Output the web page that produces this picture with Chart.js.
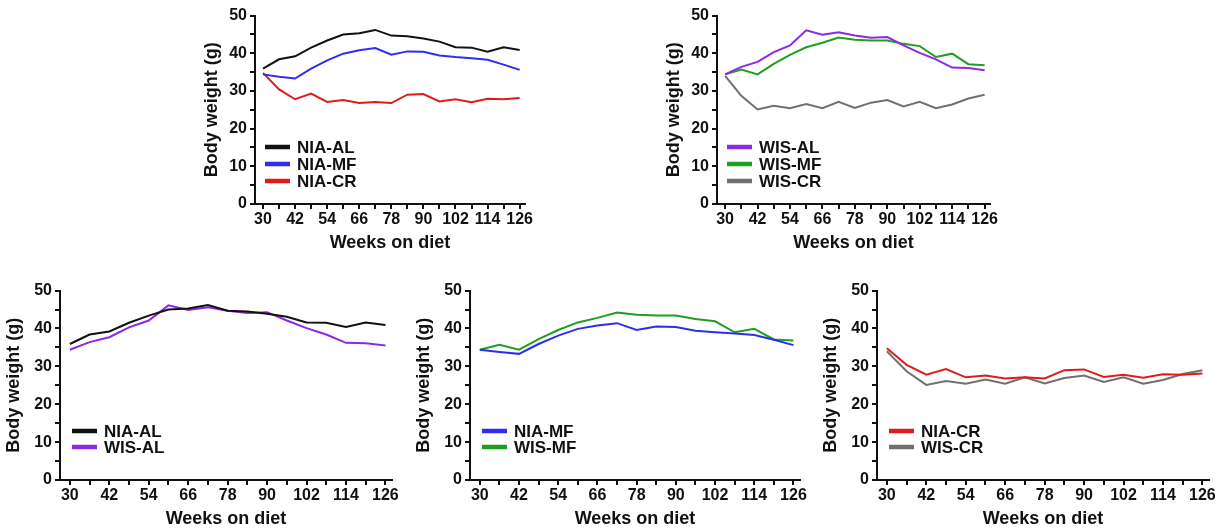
<!DOCTYPE html>
<html>
<head>
<meta charset="utf-8">
<script src="https://cdn.jsdelivr.net/npm/chart.js@4.4.0/dist/chart.umd.min.js"></script>
<style>
body { margin: 0; background: #fff; width: 1225px; height: 529px; overflow: hidden; position: relative; }
canvas { position: absolute; }
</style>
</head>
<body>
<canvas id="panelNia"></canvas>
<canvas id="panelWis"></canvas>
<canvas id="panelAL"></canvas>
<canvas id="panelMF"></canvas>
<canvas id="panelCR"></canvas>
<script>
// weeks on diet (x) and body weight in g (y)
var weeks = [30, 36, 42, 48, 54, 60, 66, 72, 78, 84, 90, 96, 102, 108, 114, 120, 126];
var xTicks = [30, 36, 42, 48, 54, 60, 66, 72, 78, 84, 90, 96, 102, 108, 114, 120, 126];
var yTicks = [0, 5, 10, 15, 20, 25, 30, 35, 40, 45, 50];

var niaAL = [35.9, 38.4, 39.2, 41.5, 43.4, 45.0, 45.3, 46.2, 44.7, 44.5, 43.9, 43.1, 41.6, 41.5, 40.4, 41.6, 40.9];
var niaMF = [34.4, 33.8, 33.3, 35.9, 38.1, 39.9, 40.8, 41.4, 39.6, 40.5, 40.4, 39.4, 39.0, 38.7, 38.3, 37.0, 35.6];
var niaCR = [34.8, 30.4, 27.8, 29.3, 27.1, 27.6, 26.8, 27.1, 26.8, 29.0, 29.2, 27.2, 27.8, 27.0, 27.9, 27.8, 28.1];
var wisAL = [34.4, 36.4, 37.7, 40.3, 42.1, 46.1, 44.9, 45.6, 44.7, 44.1, 44.3, 42.1, 40.1, 38.4, 36.2, 36.1, 35.5];
var wisMF = [34.4, 35.7, 34.4, 37.2, 39.6, 41.6, 42.8, 44.2, 43.6, 43.4, 43.4, 42.5, 41.9, 39.0, 39.9, 37.1, 36.8];
var wisCR = [34.0, 28.7, 25.1, 26.1, 25.4, 26.5, 25.4, 27.1, 25.5, 26.9, 27.6, 25.9, 27.1, 25.4, 26.4, 28.0, 29.0];

Chart.defaults.font.family = "'Liberation Sans', Arial, sans-serif";
Chart.defaults.font.weight = 'bold';
Chart.defaults.color = '#111';

function serie(label, values, color) {
    return {
        label: label,
        data: weeks.map(function (w, i) { return { x: w, y: values[i] }; }),
        borderColor: color,
        backgroundColor: color,
        borderWidth: 2,
        pointRadius: 0,
        tension: 0
    };
}

// legend drawn inside the plot, lower left
var insideLegend = {
    id: 'insideLegend',
    afterDraw: function (chart, args, o) {
        var ctx = chart.ctx, a = chart.chartArea;
        ctx.save();
        ctx.font = "bold 17px 'Liberation Sans', Arial, sans-serif";
        ctx.textBaseline = 'middle';
        chart.data.datasets.forEach(function (ds, i) {
            var y = a.bottom - o.firstRow + i * o.rowGap;
            ctx.strokeStyle = ds.borderColor;
            ctx.lineWidth = 4.5;
            ctx.beginPath();
            ctx.moveTo(a.left + o.x, y);
            ctx.lineTo(a.left + o.x + 25, y);
            ctx.stroke();
            ctx.fillStyle = '#111';
            ctx.fillText(ds.label, a.left + o.x + 32, y + 1);
        });
        ctx.restore();
    }
};

function panel(id, box, datasets, legendOpts) {
    var canvas = document.getElementById(id);
    var w = box.right - box.left + box.yw + 20;
    var h = box.bottom - box.top + 12 + 50;
    canvas.width = w;
    canvas.height = h;
    canvas.style.left = (box.left - box.yw) + 'px';
    canvas.style.top = (box.top - 12) + 'px';

    var tickGrid = {
        display: true,
        drawOnChartArea: false,
        drawTicks: true,
        tickLength: 5,
        color: '#111',
        lineWidth: 2
    };

    return new Chart(canvas.getContext('2d'), {
        type: 'line',
        data: { datasets: datasets },
        plugins: [insideLegend],
        options: {
            responsive: false,
            animation: false,
            layout: { padding: { left: 0, top: 12, right: 20, bottom: 0 } },
            plugins: {
                legend: { display: false },
                tooltip: { enabled: false },
                insideLegend: legendOpts
            },
            scales: {
                x: {
                    type: 'linear',
                    min: 27,
                    max: 128,
                    afterBuildTicks: function (s) { s.ticks = xTicks.map(function (v) { return { value: v }; }); },
                    afterFit: function (s) { s.height = 50; },
                    ticks: {
                        autoSkip: false,
                        maxRotation: 0,
                        padding: 1,
                        font: { size: 16, weight: 'bold' },
                        callback: function (v) { return (v - 30) % 12 === 0 ? String(v) : ''; }
                    },
                    grid: tickGrid,
                    border: { display: true, color: '#111', width: 2 },
                    title: {
                        display: true,
                        text: 'Weeks on diet',
                        font: { size: 18, weight: 'bold' },
                        padding: { top: 0, bottom: 0 }
                    }
                },
                y: {
                    min: 0,
                    max: 50,
                    afterBuildTicks: function (s) { s.ticks = yTicks.map(function (v) { return { value: v }; }); },
                    afterFit: function (s) { s.width = box.yw; },
                    ticks: {
                        autoSkip: false,
                        padding: 3,
                        font: { size: 16, weight: 'bold' },
                        callback: function (v) { return v % 10 === 0 ? String(v) : ''; }
                    },
                    grid: tickGrid,
                    border: { display: true, color: '#111', width: 2 },
                    title: {
                        display: true,
                        text: 'Body weight (g)',
                        font: { size: 18, weight: 'bold' },
                        padding: { top: 1, bottom: 2 }
                    }
                }
            }
        }
    });
}

var legend3 = { x: 10, firstRow: 57, rowGap: 17 };
var legend2 = { x: 12, firstRow: 49, rowGap: 16 };

panel('panelNia', { left: 255, right: 525, top: 15, bottom: 204, yw: 55 },
    [serie('NIA-AL', niaAL, '#111111'), serie('NIA-MF', niaMF, '#2e2ef2'), serie('NIA-CR', niaCR, '#e01b1b')], legend3);
panel('panelWis', { left: 717, right: 990, top: 15, bottom: 204, yw: 55 },
    [serie('WIS-AL', wisAL, '#8c28e6'), serie('WIS-MF', wisMF, '#1f9e1f'), serie('WIS-CR', wisCR, '#707070')], legend3);
panel('panelAL', { left: 60, right: 392, top: 290, bottom: 480, yw: 58 },
    [serie('NIA-AL', niaAL, '#111111'), serie('WIS-AL', wisAL, '#8c28e6')], legend2);
panel('panelMF', { left: 470, right: 800, top: 290, bottom: 480, yw: 58 },
    [serie('NIA-MF', niaMF, '#2e2ef2'), serie('WIS-MF', wisMF, '#1f9e1f')], legend2);
panel('panelCR', { left: 877, right: 1209, top: 290, bottom: 480, yw: 58 },
    [serie('NIA-CR', niaCR, '#e01b1b'), serie('WIS-CR', wisCR, '#707070')], legend2);
</script>
</body>
</html>
